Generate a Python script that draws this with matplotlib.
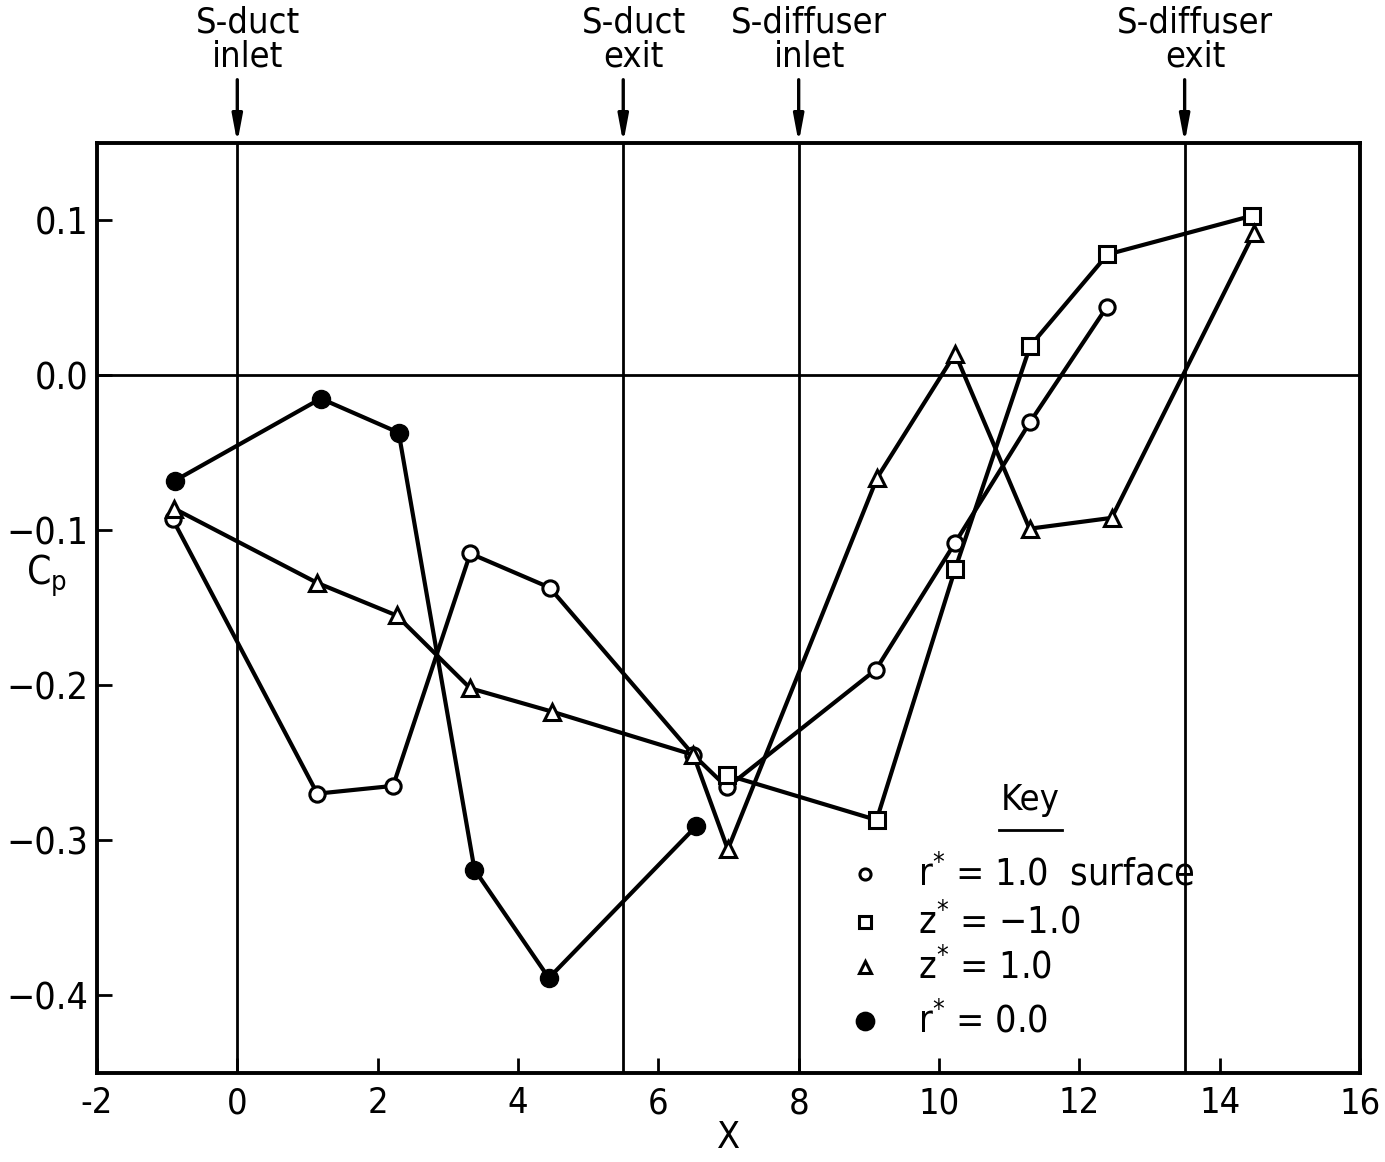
import matplotlib
matplotlib.use("Agg")
import matplotlib.pyplot as plt

# Condensed lettering
plt.rcParams["font.family"] = ["DejaVu Sans"]
plt.rcParams["font.stretch"] = "condensed"
plt.rcParams["mathtext.fontset"] = "custom"
plt.rcParams["mathtext.rm"] = "DejaVu Sans:stretch=condensed"
plt.rcParams["mathtext.it"] = "DejaVu Sans:stretch=condensed"

# Pressure coefficient along the duct
x_surface = [-0.92, 1.14, 2.22, 3.32, 4.45, 6.50, 6.98, 9.10, 10.23, 11.30, 12.39]
cp_surface = [-0.093, -0.270, -0.265, -0.115, -0.137, -0.245, -0.266, -0.190, -0.108, -0.030, 0.044]

x_zneg = [6.98, 9.11, 10.23, 11.30, 12.40, 14.46]
cp_zneg = [-0.258, -0.287, -0.125, 0.019, 0.078, 0.103]

x_zpos = [-0.90, 1.14, 2.27, 3.32, 4.48, 6.50, 6.99, 9.12, 10.23, 11.29, 12.46, 14.49]
cp_zpos = [-0.086, -0.134, -0.155, -0.202, -0.217, -0.245, -0.306, -0.066, 0.014, -0.099, -0.092, 0.092]

x_axis = [-0.89, 1.19, 2.30, 3.38, 4.44, 6.54]
cp_axis = [-0.068, -0.015, -0.037, -0.319, -0.389, -0.291]

# Station markers
stations_x = [0.0, 5.5, 8.0, 13.5]
stations_label = ["S-duct\ninlet", "S-duct\nexit", "S-diffuser\ninlet", "S-diffuser\nexit"]

x_ticks = list(range(-2, 17, 2))
y_ticks = [0.1, 0.0, -0.1, -0.2, -0.3, -0.4]
y_tick_labels = ["0.1", "0.0", "\u22120.1", "\u22120.2", "\u22120.3", "\u22120.4"]

key_labels = ["r$^{*}$ = 1.0  surface", "z$^{*}$ = \u22121.0", "z$^{*}$ = 1.0", "r$^{*}$ = 0.0"]

fig = plt.figure(figsize=(13.85, 11.62), dpi=100)
ax = fig.add_axes([0.070, 0.077, 0.912, 0.800])
ax.set_xlim(-2, 16)
ax.set_ylim(-0.45, 0.15)

LW = 3.0
MS = 11
ax.plot(x_surface, cp_surface, "-o", color="black", lw=LW, ms=MS, mfc="white", mec="black", mew=2.2, zorder=4)
ax.plot(x_zneg, cp_zneg, "-s", color="black", lw=LW, ms=MS, mfc="white", mec="black", mew=2.2, zorder=4)
ax.plot(x_zpos, cp_zpos, "-^", color="black", lw=LW, ms=MS, mfc="white", mec="black", mew=2.2, zorder=4)
ax.plot(x_axis, cp_axis, "-o", color="black", lw=LW, ms=13, mfc="black", mec="black", zorder=5)

ax.axhline(0.0, color="black", lw=2.0, zorder=2)
for xs, lab in zip(stations_x, stations_label):
    ax.axvline(xs, color="black", lw=2.0, zorder=2)
    ax.annotate("", xy=(xs, 1.0), xycoords=("data", "axes fraction"),
                xytext=(xs, 1.068), textcoords=("data", "axes fraction"),
                arrowprops=dict(arrowstyle="-|>,head_length=1.6,head_width=0.3",
                                color="black", lw=2.4, shrinkA=0, shrinkB=0),
                annotation_clip=False)
    ax.text(xs + 0.15, 1.075, lab, transform=ax.get_xaxis_transform(),
            ha="center", va="bottom", fontsize=26, linespacing=1.0)

for s in ax.spines.values():
    s.set_linewidth(2.8)

ax.set_xticks(x_ticks)
ax.set_xticklabels([str(v) for v in x_ticks])
ax.set_yticks(y_ticks)
ax.set_yticklabels(y_tick_labels)
ax.tick_params(direction="in", length=11, width=2, labelsize=27, pad=10)
ax.tick_params(axis="x", labelsize=26)
ax.tick_params(axis="y", pad=6)

ax.set_xlabel("X", fontsize=27, labelpad=0)
ax.text(-0.040, 0.535, "C$_\\mathrm{p}$", transform=ax.transAxes, fontsize=28,
        ha="center", va="center")

# Key
ax.text(11.3, -0.285, "Key", fontsize=26, ha="center", va="bottom")
ax.plot([10.85, 11.75], [-0.2935, -0.2935], color="black", lw=2.0)
key_y = [-0.322, -0.353, -0.382, -0.417]
key_style = [dict(marker="o", ms=8, mfc="white"), dict(marker="s", ms=8, mfc="white"),
             dict(marker="^", ms=8, mfc="white"), dict(marker="o", ms=12, mfc="black")]
for ky, st, lab in zip(key_y, key_style, key_labels):
    ax.plot([8.95], [ky], ls="none", color="black", mec="black", mew=2.2, **st)
    ax.text(9.7, ky, lab, fontsize=27, ha="left", va="center")

fig.savefig("out.png", dpi=100, facecolor="white")
